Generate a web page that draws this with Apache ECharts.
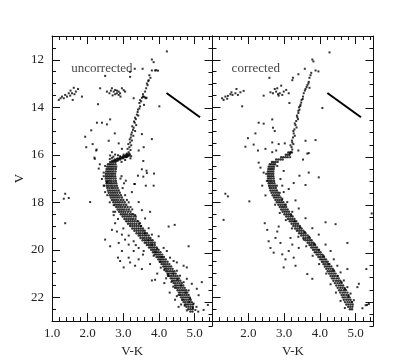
<!DOCTYPE html>
<html>
<head>
<meta charset="utf-8">
<script src="https://cdn.jsdelivr.net/npm/echarts@6/dist/echarts.min.js"></script>
<style>
  html, body { margin: 0; padding: 0; background: #fff; }
  #chart { width: 415px; height: 363px; }
</style>
</head>
<body>
<div id="chart"></div>
<script>
// tick marks / labels
const xMajorTicks = [1, 2, 3, 4, 5];
const xLabelsLeft = [1, 2, 3, 4, 5];
const xLabelsRight = [2, 3, 4, 5];
const yMajorTicks = [12, 14, 16, 18, 20, 22];
const panelNames = ["uncorrected", "corrected"];
const panelNamePos = [[2.40, 12.36], [2.21, 12.36]];
const reddeningVector = [[4.21, 13.40], [5.15, 14.42]];

// uncorrected: dense sequence, rows of [V, V-K, V-K, ...]
const uncorrectedBand = [
  [16.0, 3.08, 3.13, 3.18],
  [16.05, 3.00, 3.05, 3.10, 3.15],
  [16.1, 2.92, 2.97, 3.02, 3.07],
  [16.15, 2.84, 2.89, 2.94, 2.99],
  [16.2, 2.76, 2.81, 2.86, 2.91],
  [16.25, 2.69, 2.74, 2.79, 2.84],
  [16.3, 2.63, 2.68, 2.73, 2.78],
  [16.4, 2.57, 2.62, 2.67, 2.72, 2.78],
  [16.5, 2.55, 2.60, 2.65, 2.70, 2.75, 2.80],
  [16.6, 2.53, 2.58, 2.63, 2.68, 2.73, 2.79],
  [16.7, 2.52, 2.57, 2.62, 2.67, 2.72, 2.78],
  [16.8, 2.51, 2.56, 2.61, 2.66, 2.71, 2.77],
  [16.9, 2.51, 2.56, 2.61, 2.66, 2.71, 2.77],
  [17.0, 2.51, 2.56, 2.61, 2.66, 2.72, 2.78],
  [17.1, 2.52, 2.57, 2.62, 2.67, 2.73, 2.79],
  [17.2, 2.53, 2.58, 2.63, 2.68, 2.74, 2.80],
  [17.3, 2.54, 2.59, 2.65, 2.70, 2.76, 2.82],
  [17.4, 2.55, 2.61, 2.67, 2.72, 2.78, 2.84],
  [17.5, 2.57, 2.63, 2.69, 2.75, 2.81, 2.87],
  [17.6, 2.59, 2.65, 2.71, 2.77, 2.83, 2.90],
  [17.7, 2.62, 2.68, 2.74, 2.80, 2.86, 2.93],
  [17.8, 2.65, 2.71, 2.77, 2.83, 2.89, 2.96],
  [17.9, 2.68, 2.74, 2.80, 2.86, 2.93, 3.00],
  [18.0, 2.72, 2.78, 2.84, 2.90, 2.97, 3.04],
  [18.1, 2.76, 2.82, 2.88, 2.94, 3.01, 3.08],
  [18.2, 2.80, 2.86, 2.92, 2.98, 3.05, 3.12],
  [18.3, 2.84, 2.90, 2.96, 3.02, 3.09, 3.16],
  [18.4, 2.88, 2.94, 3.00, 3.06, 3.13, 3.20],
  [18.5, 2.93, 2.99, 3.05, 3.11, 3.18, 3.24],
  [18.6, 2.98, 3.04, 3.10, 3.16, 3.22, 3.29],
  [18.7, 3.03, 3.09, 3.15, 3.21, 3.27, 3.34],
  [18.8, 3.08, 3.14, 3.20, 3.26, 3.32, 3.39],
  [18.9, 3.13, 3.19, 3.25, 3.31, 3.37, 3.44],
  [19.0, 3.19, 3.25, 3.31, 3.37, 3.43, 3.49],
  [19.1, 3.25, 3.31, 3.37, 3.43, 3.49, 3.55],
  [19.2, 3.31, 3.37, 3.43, 3.49, 3.55, 3.60],
  [19.3, 3.37, 3.43, 3.48, 3.54, 3.60, 3.66],
  [19.4, 3.43, 3.48, 3.54, 3.60, 3.65, 3.71],
  [19.5, 3.48, 3.54, 3.59, 3.65, 3.71, 3.76],
  [19.6, 3.54, 3.60, 3.65, 3.71, 3.77, 3.82],
  [19.7, 3.60, 3.65, 3.71, 3.77, 3.82, 3.88],
  [19.8, 3.66, 3.71, 3.76, 3.82, 3.88],
  [19.9, 3.72, 3.77, 3.82, 3.87, 3.93],
  [20.0, 3.78, 3.83, 3.88, 3.93, 3.99],
  [20.1, 3.83, 3.88, 3.93, 3.98, 4.04],
  [20.2, 3.88, 3.93, 3.98, 4.03, 4.09],
  [20.3, 3.93, 3.98, 4.03, 4.08, 4.14],
  [20.4, 3.98, 4.03, 4.08, 4.13, 4.19],
  [20.5, 4.03, 4.08, 4.13, 4.18, 4.24],
  [20.6, 4.07, 4.12, 4.17, 4.23, 4.29],
  [20.7, 4.12, 4.17, 4.22, 4.28, 4.34],
  [20.8, 4.16, 4.21, 4.26, 4.32, 4.38],
  [20.9, 4.20, 4.25, 4.31, 4.37, 4.43],
  [21.0, 4.24, 4.29, 4.35, 4.41, 4.47],
  [21.1, 4.28, 4.34, 4.40, 4.46, 4.52],
  [21.2, 4.33, 4.38, 4.44, 4.50, 4.56],
  [21.3, 4.37, 4.42, 4.48, 4.54, 4.60],
  [21.4, 4.41, 4.46, 4.52, 4.58, 4.64],
  [21.5, 4.45, 4.50, 4.56, 4.62, 4.68],
  [21.6, 4.49, 4.54, 4.60, 4.66, 4.72],
  [21.7, 4.52, 4.58, 4.64, 4.70, 4.76],
  [21.8, 4.56, 4.61, 4.67, 4.73, 4.79],
  [21.9, 4.59, 4.65, 4.71, 4.77, 4.83],
  [22.0, 4.62, 4.68, 4.74, 4.80, 4.86],
  [22.1, 4.66, 4.71, 4.77, 4.83, 4.89],
  [22.2, 4.69, 4.74, 4.80, 4.86, 4.92],
  [22.3, 4.73, 4.78, 4.83, 4.89, 4.95],
  [22.4, 4.77, 4.83, 4.89, 4.95],
  [22.5, 4.82, 4.88, 4.94],
  [22.6, 4.88, 4.94]
];

// uncorrected: individual stars [V-K, V]
const uncorrectedStars = [
  [4.22,11.65],[3.80,11.99],[3.85,12.10],[3.89,12.45],[3.97,12.46],[3.80,12.45],[3.92,12.44],
  [3.73,12.65],[3.76,12.76],[3.71,12.86],[3.68,13.07],[3.64,13.20],[3.61,13.34],[3.57,13.55],
  [3.63,13.62],[3.50,13.75],[3.45,13.82],[3.47,13.96],[3.41,14.10],[3.38,14.31],[3.33,14.44],
  [3.32,14.65],[3.29,14.86],[3.24,15.06],[3.21,15.27],[3.19,15.48],[3.17,15.68],[3.15,15.89],
  [3.40,14.20],[3.45,14.05],[3.35,14.50],[3.30,14.60],[3.36,14.75],[3.27,14.95],[3.33,15.00],
  [3.22,15.15],[3.28,15.20],[3.18,15.35],[3.24,15.40],[3.14,15.55],[3.22,15.60],[3.12,15.75],
  [3.20,15.80],[3.10,15.95],[3.25,14.80],[3.42,14.35],[3.47,13.70],[3.55,13.45],[3.66,13.00],
  [3.70,12.90],[3.58,13.90],[3.52,13.60],[3.55,13.55],[3.60,13.58],[3.65,13.60],
  [1.19,13.69],[1.28,13.55],[1.37,13.48],[1.47,13.41],[1.56,13.41],[1.61,13.18],[1.67,13.34],
  [1.73,13.23],[1.84,13.55],[1.33,13.62],[1.42,13.55],[1.51,13.51],[1.58,13.69],[1.24,13.62],
  [1.52,13.30],[1.63,13.45],
  [2.35,13.20],[2.54,13.34],[2.61,13.41],[2.68,13.20],[2.73,13.34],[2.77,13.45],[2.82,13.41],
  [2.87,13.48],[2.91,13.41],[2.96,13.20],[3.01,13.28],[3.05,13.34],[2.77,13.27],[2.87,13.34],
  [2.70,13.50],[2.82,13.30],[2.92,13.55],[2.65,13.30],
  [2.49,12.68],[3.19,12.51],[3.19,12.72],[3.32,12.38],[3.54,12.38],[2.29,13.87],[3.29,13.62],
  [4.01,13.96],[2.63,14.51],[2.40,14.65],[2.26,14.65],[2.54,14.72],[2.10,14.97],[1.93,15.24],
  [2.76,15.10],[2.14,15.55],[1.96,15.68],[2.24,15.82],[2.59,15.41],[2.87,15.52],[3.52,15.13],
  [3.80,15.34],[3.57,15.68],[3.43,15.82],[2.68,15.89],[2.96,15.75],[2.19,16.12],
  [2.25,15.78],[2.34,16.40],[3.56,16.26],[3.65,16.67],[3.86,16.79],[3.56,16.92],[3.31,17.23],
  [2.63,16.03],[2.68,16.13],[2.77,15.99],[2.91,16.06],[3.01,15.99],[3.10,16.09],[3.17,15.96],
  [3.22,16.06],[2.62,16.18],[2.72,16.08],[2.85,16.02],[3.20,16.15],[3.05,16.22],[2.95,16.30],
  [2.20,16.17],[2.31,16.58],[2.45,17.30],[3.52,16.61],[3.66,16.77],[3.07,17.09],[3.32,17.23],
  [3.41,16.88],[3.63,17.30],[3.85,17.30],[3.75,18.40],[4.27,19.02],[4.44,18.95],[4.83,19.85],
  [1.37,17.64],[1.47,17.82],[1.33,17.85],[2.07,17.99],[1.37,18.88],[2.49,19.57],[2.63,19.85],
  [2.73,18.54],[2.77,18.88],[2.68,19.16],[2.82,19.23],[2.87,19.71],[2.96,20.05],[2.85,20.33],
  [2.91,20.47],[3.01,20.74],[3.15,20.33],[3.19,20.53],[3.33,20.67],[3.29,20.05],[3.43,20.40],
  [3.57,20.05],[3.52,20.81],[3.15,19.78],[3.05,19.57],[2.96,19.36],[3.29,19.64],[3.43,19.92],
  [3.80,21.29],[3.89,21.26],[4.25,21.04],[4.50,20.53],[4.69,20.67],[4.78,20.74],[4.78,21.22],
  [4.92,21.43],[5.06,21.64],[5.11,21.91],[5.20,21.36],[5.37,22.32],[5.25,22.53],[5.02,22.53],
  [3.24,17.57],[3.43,17.99],[3.52,18.33],[3.33,18.54],[3.61,18.68],[3.47,18.88],[3.71,19.09],
  [3.80,19.36],[3.99,19.43],[4.13,19.92],[4.22,20.05],[4.31,20.33],[4.41,20.47],[4.50,20.88],
  [4.59,21.09],[4.69,21.36],[4.83,21.71],[4.87,22.05],[4.97,22.26],
  [2.49,16.47],[2.45,16.75],[2.54,17.16],[2.40,17.02],[2.49,17.57],[2.73,18.12],[2.77,18.40],
  [2.92,17.00],[2.98,17.40],[3.05,17.70],[3.10,17.90],[3.20,18.20],[3.28,18.50],[2.95,16.90],
  [3.02,17.20],[3.15,18.00],[3.25,18.30],[3.35,18.60],[3.42,18.80],[3.50,19.00],[3.60,19.30],
  [3.70,19.60],[3.80,19.80],[3.90,20.10],[4.02,20.50],[4.15,20.85],[4.25,21.10],[4.35,21.35],
  [4.45,21.60],[4.55,21.90],[4.65,22.10],[4.72,22.35],[4.78,22.55],[5.05,22.40],[5.10,22.60],
  [2.45,16.90],[2.47,17.30],[2.55,17.70],[2.62,18.00],[2.72,18.40],[2.85,18.70],[3.00,19.10],
  [3.15,19.40],[3.35,19.80],[3.55,20.20],[3.75,20.60],[3.95,21.00],[4.15,21.40],[4.30,21.80],
  [4.45,22.10],[4.55,22.40],[3.95,19.95],[4.08,20.30],[4.40,21.00],[4.52,21.25],[4.62,21.50],
  [4.75,21.80],[4.85,22.20],[4.95,22.45],[3.85,20.25],[4.05,20.75],[4.20,21.20],[4.40,21.55],
  [4.50,21.95],[4.62,22.30]
];

// corrected: dense sequence, rows of [V, V-K, V-K, ...]
const correctedBand = [
  [15.9, 3.12, 3.17, 3.22],
  [16.0, 3.05, 3.10, 3.15],
  [16.1, 2.92, 2.98, 3.04, 3.10],
  [16.2, 2.78, 2.84, 2.90, 2.96],
  [16.3, 2.66, 2.71, 2.76, 2.82],
  [16.4, 2.60, 2.65, 2.70, 2.75],
  [16.5, 2.57, 2.62, 2.67, 2.72],
  [16.6, 2.56, 2.61, 2.66, 2.71],
  [16.7, 2.55, 2.60, 2.65, 2.70],
  [16.8, 2.55, 2.60, 2.65, 2.70],
  [16.9, 2.55, 2.60, 2.65, 2.70],
  [17.0, 2.55, 2.60, 2.65, 2.71],
  [17.1, 2.56, 2.61, 2.66, 2.72],
  [17.2, 2.57, 2.62, 2.67, 2.73],
  [17.3, 2.58, 2.63, 2.69, 2.75],
  [17.4, 2.60, 2.65, 2.71, 2.77],
  [17.5, 2.62, 2.68, 2.74, 2.80],
  [17.6, 2.65, 2.71, 2.77, 2.83],
  [17.7, 2.68, 2.74, 2.80, 2.86],
  [17.8, 2.72, 2.78, 2.84, 2.90],
  [17.9, 2.76, 2.82, 2.88, 2.94],
  [18.0, 2.80, 2.86, 2.92, 2.98],
  [18.1, 2.84, 2.90, 2.96, 3.02],
  [18.2, 2.88, 2.94, 3.00, 3.06],
  [18.3, 2.92, 2.98, 3.04, 3.10],
  [18.4, 2.96, 3.02, 3.08, 3.14],
  [18.5, 3.01, 3.07, 3.13, 3.19],
  [18.6, 3.06, 3.12, 3.18, 3.24],
  [18.7, 3.11, 3.17, 3.23, 3.29],
  [18.8, 3.16, 3.22, 3.28, 3.34],
  [18.9, 3.21, 3.27, 3.33, 3.39],
  [19.0, 3.26, 3.32, 3.38, 3.44],
  [19.1, 3.31, 3.37, 3.43, 3.49],
  [19.2, 3.36, 3.42, 3.48, 3.54],
  [19.3, 3.42, 3.48, 3.54, 3.60],
  [19.4, 3.48, 3.54, 3.60, 3.66],
  [19.5, 3.54, 3.60, 3.66, 3.72],
  [19.6, 3.60, 3.66, 3.72, 3.77],
  [19.7, 3.66, 3.71, 3.77, 3.82],
  [19.8, 3.71, 3.76, 3.82, 3.87],
  [19.9, 3.76, 3.81, 3.87, 3.92],
  [20.0, 3.81, 3.86, 3.92, 3.97],
  [20.1, 3.86, 3.91, 3.97, 4.02],
  [20.2, 3.91, 3.96, 4.02, 4.07],
  [20.3, 3.96, 4.01, 4.07, 4.12],
  [20.4, 4.01, 4.06, 4.12, 4.17],
  [20.5, 4.06, 4.11, 4.17, 4.22],
  [20.6, 4.10, 4.15, 4.21, 4.27],
  [20.7, 4.14, 4.20, 4.26, 4.32],
  [20.8, 4.18, 4.24, 4.30, 4.36],
  [20.9, 4.22, 4.28, 4.34, 4.40],
  [21.0, 4.26, 4.32, 4.38, 4.44],
  [21.1, 4.30, 4.36, 4.42, 4.49],
  [21.2, 4.34, 4.40, 4.47, 4.53],
  [21.3, 4.38, 4.45, 4.51, 4.57],
  [21.4, 4.42, 4.49, 4.55, 4.61],
  [21.5, 4.46, 4.53, 4.59, 4.65],
  [21.6, 4.50, 4.57, 4.63, 4.69],
  [21.7, 4.54, 4.60, 4.67, 4.73],
  [21.8, 4.57, 4.64, 4.70, 4.77],
  [21.9, 4.61, 4.67, 4.74, 4.80],
  [22.0, 4.64, 4.70, 4.77, 4.83],
  [22.1, 4.67, 4.74, 4.80, 4.86],
  [22.2, 4.70, 4.77, 4.83, 4.89],
  [22.3, 4.74, 4.80, 4.86, 4.92],
  [22.4, 4.79, 4.85, 4.91],
  [22.5, 4.84, 4.90]
];

// corrected: individual stars [V-K, V]
const correctedStars = [
  [4.27,11.69],[3.79,11.99],[3.82,12.07],[3.88,12.45],[3.96,12.49],[3.74,12.65],[3.71,12.76],
  [3.69,12.93],[3.65,13.07],[3.60,13.23],[3.55,13.41],[3.53,13.55],[3.49,13.69],[3.46,13.89],
  [3.43,14.10],[3.40,14.24],[3.37,14.42],[3.34,14.58],[3.32,14.75],[3.29,14.93],[3.27,15.10],
  [3.25,15.27],[3.23,15.48],[3.21,15.68],[3.19,15.89],[3.17,16.10],
  [3.48,13.80],[3.42,14.00],[3.36,14.35],[3.39,14.50],[3.30,14.68],[3.35,14.85],[3.26,15.00],
  [3.30,15.20],[3.22,15.40],[3.26,15.55],[3.18,15.60],[3.23,15.78],[3.16,15.95],[3.58,13.30],
  [3.63,13.15],[3.68,13.00],[3.76,12.55],[3.45,13.95],[3.52,13.65],[3.40,14.15],
  [3.58,12.38],[3.40,12.61],[3.25,12.76],[3.23,12.86],[3.71,13.18],[4.07,14.03],
  [1.31,13.69],[1.36,13.55],[1.43,13.52],[1.50,13.45],[1.56,13.48],[1.64,13.41],[1.71,13.48],
  [1.78,13.37],[1.87,13.31],[1.67,13.23],[1.27,13.62],[1.41,13.64],[1.53,13.37],
  [2.43,13.51],[2.62,13.37],[2.69,13.41],[2.74,13.23],[2.78,13.34],[2.83,13.45],[2.88,13.41],
  [2.95,13.48],[2.99,13.34],[3.06,13.27],[3.13,13.41],[2.92,13.09],[2.81,13.20],[2.85,13.51],
  [1.83,13.96],[2.59,12.76],[3.15,13.82],
  [2.29,14.65],[2.43,14.69],[2.67,14.51],[2.69,14.86],[2.74,15.00],[2.20,15.10],[1.99,15.30],
  [2.15,15.57],[1.92,15.66],[2.27,15.82],[2.67,15.48],[2.48,15.75],[2.85,15.55],[3.02,15.52],
  [3.40,15.82],[3.60,15.41],[3.88,15.38],[3.69,15.93],[2.67,15.89],[2.78,15.82],
  [2.29,16.33],[2.34,16.54],[2.43,16.75],[2.39,17.30],[2.48,17.71],[2.46,18.88],[2.53,19.16],
  [2.57,19.64],[2.62,19.92],[2.71,20.12],[2.76,19.50],[2.81,19.23],[2.85,19.02],[2.90,19.71],
  [2.95,20.19],[2.99,20.74],[3.04,20.40],[3.13,20.05],[3.18,19.50],[3.23,19.78],[3.27,20.33],
  [3.32,20.67],[3.41,19.92],[3.55,19.57],[3.65,21.02],[3.79,21.22],[1.36,17.64],[1.43,17.75],
  [1.31,18.74],[2.03,17.96],[2.99,16.68],[3.27,17.19],[3.43,16.88],[3.60,17.27],[3.69,16.75],
  [3.97,16.95],[3.53,16.20],[3.65,15.95],[4.16,18.84],[4.44,18.92],[4.77,19.71],[4.77,20.81],
  [5.09,21.43],[5.30,20.81],[5.37,22.28],[5.45,18.47],[5.32,22.32],
  [3.13,17.44],[3.32,17.92],[3.41,18.26],[3.60,18.67],[3.79,19.09],[3.97,19.36],[4.16,19.78],
  [4.30,20.05],[4.39,20.40],[4.49,20.67],[4.58,20.95],[4.67,21.29],[4.77,21.57],[4.86,21.84],
  [4.95,22.12],[5.05,21.57],[5.19,22.46],[5.28,22.33],
  [2.90,17.02],[2.99,17.57],[3.09,17.99],[3.23,18.40],[2.95,17.30],[2.81,16.47],
  [2.50,16.80],[2.52,17.10],[2.80,17.30],[2.88,17.60],[2.95,17.85],[3.05,18.10],[3.20,18.55],
  [3.30,18.80],[3.45,19.05],[3.58,19.25],[3.70,19.45],[3.85,19.75],[3.98,20.00],[4.10,20.25],
  [4.25,20.60],[4.38,20.85],[4.50,21.10],[4.60,21.35],[4.70,21.65],[4.80,21.95],[4.90,22.20],
  [2.75,18.10],[2.88,18.45],[3.05,18.75],[3.22,19.10],[3.40,19.45],[3.62,19.85],[3.80,20.25],
  [3.98,20.60],[4.18,21.00],[4.30,21.45],[4.45,21.80],[4.58,22.15],[4.70,22.45]
];

const FONT = '"Liberation Serif", "DejaVu Serif", serif';

function bandPoints(rows) {
  const pts = [];
  rows.forEach((r) => r.slice(1).forEach((vk) => pts.push([vk, r[0]])));
  return pts;
}

const axisLine = { show: true, onZero: false, lineStyle: { color: "#111", width: 1 } };
const noLine = { show: false, onZero: false };
const tickColor = { color: "#111" };

// each panel uses two grids on the same rectangle: one for bottom/left axes,
// one for the mirrored top/right axes
const panelRects = [
  { left: 52, top: 36, width: 160.5, height: 290 },
  { left: 212.5, top: 36, width: 161, height: 290 },
];

function xAxes(grid, side, labels) {
  const base = { gridIndex: grid, type: "value", min: 1, max: 5.5, position: side, splitLine: { show: false } };
  const major = {
    ...base, axisLine,
    axisTick: { inside: true, length: 8, customValues: xMajorTicks, lineStyle: tickColor },
    axisLabel: { show: false },
  };
  if (labels) {
    major.axisLabel = {
      customValues: labels, formatter: (v) => v.toFixed(1),
      color: "#222", fontFamily: FONT, fontSize: 13, margin: 6,
    };
    major.name = "V-K";
    major.nameLocation = "middle";
    major.nameGap = 18;
    major.nameTextStyle = { color: "#222", fontFamily: FONT, fontSize: 13 };
  }
  const minor = {
    ...base, interval: 0.2, axisLine: noLine,
    axisTick: { inside: true, length: 4, lineStyle: tickColor },
    axisLabel: { show: false },
  };
  return [major, minor];
}

function yAxes(grid, side) {
  const base = {
    gridIndex: grid, type: "value", min: 11, max: 23, inverse: true,
    position: side, splitLine: { show: false },
  };
  const major = {
    ...base, axisLine,
    axisTick: { inside: true, length: 8, customValues: yMajorTicks, lineStyle: tickColor },
    axisLabel: { show: false },
  };
  const minor = {
    ...base, interval: 0.5, axisLine: noLine,
    axisTick: { inside: true, length: 4, lineStyle: tickColor },
    axisLabel: { show: false },
  };
  return [major, minor];
}

function panelSeries(p, band, stars) {
  const ax = { xAxisIndex: p * 4, yAxisIndex: p * 4 };
  return [
    {
      ...ax, type: "scatter", data: bandPoints(band), symbol: "circle", symbolSize: 2.4,
      itemStyle: { color: "#000" }, silent: true,
    },
    {
      ...ax, type: "scatter", data: stars, symbol: "rect", symbolSize: 2,
      itemStyle: { color: "#000" }, silent: true,
    },
    {
      ...ax, type: "line", data: reddeningVector, symbol: "none",
      lineStyle: { color: "#000", width: 2 }, silent: true,
    },
    {
      ...ax, type: "scatter", data: [panelNamePos[p]], symbolSize: 0, silent: true,
      label: {
        show: true, position: "inside", formatter: panelNames[p],
        color: "#111", fontFamily: FONT, fontSize: 13,
      },
    },
    {
      // keeps the mirror grid's axes alive
      xAxisIndex: p * 4 + 2, yAxisIndex: p * 4 + 2, type: "scatter", data: [], silent: true,
    },
  ];
}

const chart = echarts.init(document.getElementById("chart"));
chart.setOption({
  animation: false,
  backgroundColor: "#fff",
  grid: [panelRects[0], panelRects[0], panelRects[1], panelRects[1]],
  xAxis: [
    ...xAxes(0, "bottom", xLabelsLeft), ...xAxes(1, "top", null),
    ...xAxes(2, "bottom", xLabelsRight), ...xAxes(3, "top", null),
  ],
  yAxis: [
    ...yAxes(0, "left"), ...yAxes(1, "right"),
    ...yAxes(2, "left"), ...yAxes(3, "right"),
  ],
  series: [
    ...panelSeries(0, uncorrectedBand, uncorrectedStars),
    ...panelSeries(1, correctedBand, correctedStars),
  ],
});

// V tick labels and the axis title, placed outside the left frame via the axis scales
const frameX = chart.convertToPixel({ xAxisIndex: 0 }, 1);
const midY = chart.convertToPixel({ yAxisIndex: 0 }, 17);
const labelStyle = { fill: "#222", fontFamily: FONT, fontSize: 13 };
chart.setOption({
  graphic: [
    ...yMajorTicks.map((v) => ({
      type: "text", silent: true,
      x: frameX - 8, y: chart.convertToPixel({ yAxisIndex: 0 }, v),
      style: { ...labelStyle, text: String(v), align: "right", verticalAlign: "middle" },
    })),
    {
      type: "text", silent: true, x: frameX - 32, y: midY, rotation: Math.PI / 2,
      style: { ...labelStyle, text: "V", align: "center", verticalAlign: "middle" },
    },
  ],
});
</script>
</body>
</html>
